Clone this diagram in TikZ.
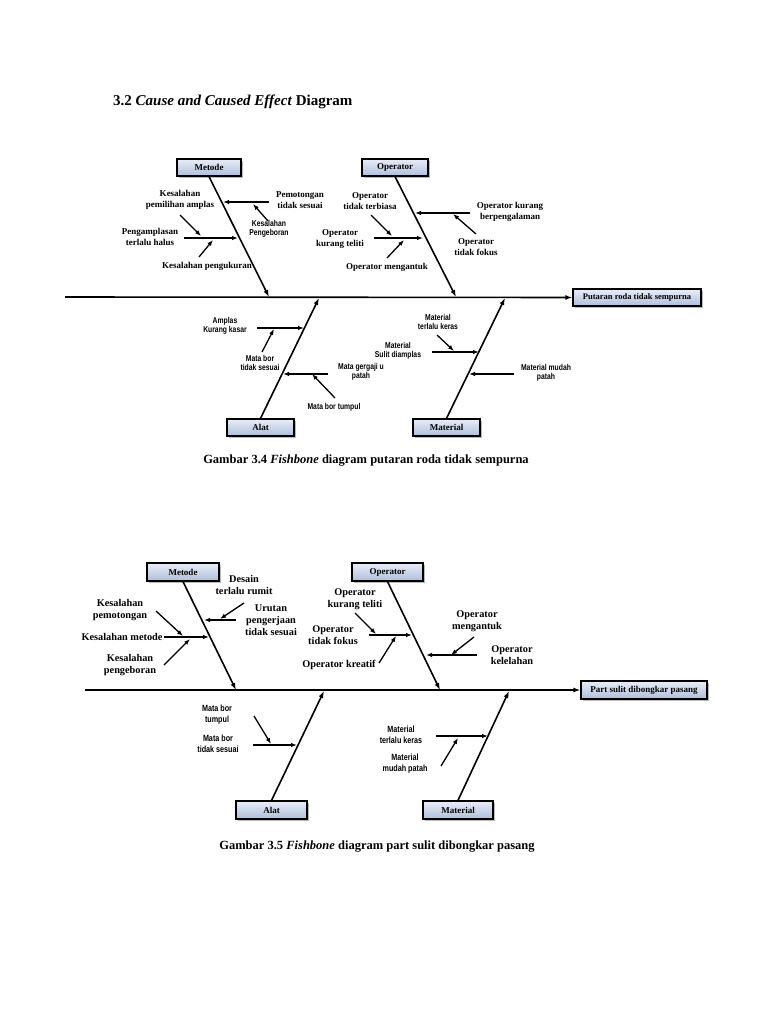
\documentclass[tikz,border=0pt]{standalone}
\usepackage{fontspec}
\setmainfont{Liberation Serif}
\newfontfamily\narrowf{Liberation Sans}[FakeStretch=0.8]
\usetikzlibrary{arrows.meta}
\tikzset{
 bone/.style={line width=1.6pt,-{Latex[length=7pt,width=5pt]}},
 sub/.style={line width=1.3pt,-{Latex[length=6pt,width=4.5pt]}},
 cat/.style={draw=black,line width=1.2pt,top color={rgb,255:red,232;green,237;blue,248},bottom color={rgb,255:red,176;green,190;blue,218},font=\bfseries\fontsize{9}{10}\selectfont,inner sep=0pt},
 lb/.style={font=\bfseries\fontsize{9}{11}\selectfont,align=center,inner sep=0pt},
 ls/.style={font=\narrowf\bfseries\fontsize{8.5}{9.5}\selectfont,align=center,inner sep=0pt},
 lb2/.style={font=\bfseries\fontsize{10.3}{12}\selectfont,align=center,inner sep=0pt},
 ls2/.style={font=\narrowf\bfseries\fontsize{9}{11}\selectfont,align=center,inner sep=0pt},
}
\newcommand\carr[3]{\coordinate (#1s) at (#2);\coordinate (#1e) at (#3);\draw[sub] (#1s) -- (#1e);}
\newcommand\cbone[3]{\coordinate (#1s) at (#2);\coordinate (#1e) at (#3);\draw[bone] (#1s) -- (#1e);}
\newcommand\cbox[6]{\fill[gray!55] (#2+2,#3+2) rectangle (#4+2,#5+2);
 \node[cat,minimum width=#4-#2,minimum height=#5-#3] (#1) at ({(#2+#4)/2},{(#3+#5)/2}) {#6};}
\begin{document}
\begin{tikzpicture}[x=1pt,y=-1pt]
\useasboundingbox[fill=white] (0,0) rectangle (768,1024);
\node[anchor=west,font=\bfseries\fontsize{15}{17}\selectfont,inner sep=0pt] (title) at (113,102) {3.2 \textit{Cause and Caused Effect} Diagram};
% ---------- Diagram 1
\cbox{m1}{177}{159}{241}{176}{Metode}
\cbox{o1}{362}{159}{428}{176}{Operator}
\cbox{a1}{227}{419}{294}{436}{Alat}
\cbox{t1}{413}{419}{480}{436}{Material}
\cbox{e1}{573}{289}{701}{306}{\fontsize{8.5}{10}\selectfont Putaran roda tidak sempurna}
\coordinate (sp1) at (65,297);
\draw[bone] (sp1) -- (e1.west);
\cbone{mb1}{m1.south}{269,297}
\cbone{ob1}{o1.south}{456,297}
\cbone{ab1}{a1.north}{319,298}
\cbone{tb1}{t1.north}{505,298}
\carr{p1}{269,202}{223,202}
\node[lb] (p1l) at (300,200) {Pemotongan\\tidak sesuai};
\carr{p2}{268,221}{253,204}
\node[ls] (p2l) at (269,229) {Kesalahan\\Pengeboran};
\node[lb] (p3l) at (180,200) {Kesalahan\\pemilihan amplas};
\carr{p4}{184,238}{238,238}
\node[lb] (p4l) at (150,237) {Pengamplasan\\terlalu halus};
\carr{p5}{180,215}{201,236}
\carr{p6}{199,257}{213,240}
\node[lb] (p6l) at (207,266) {Kesalahan pengukuran};
\node[lb] (q1l) at (370,201) {Operator\\tidak terbiasa};
\carr{q2}{470,213}{415,213}
\node[lb] (q2l) at (510,212) {Operator kurang\\berpengalaman};
\carr{q3}{476,234}{453,214}
\node[lb] (q3l) at (476,247) {Operator\\tidak fokus};
\carr{q4}{374,238}{423,238}
\carr{q5}{371,215}{392,236}
\node[lb] (q5l) at (340,239) {Operator\\kurang teliti};
\carr{q6}{387,258}{404,240}
\node[lb] (q6l) at (387,267) {Operator mengantuk};
\node[ls] (r1l) at (225,326) {Amplas\\Kurang kasar};
\carr{r2}{257,328}{304,328}
\carr{r3}{262,352}{274,329}
\node[ls] (r3l) at (260,363) {Mata bor\\tidak sesuai};
\carr{r4}{328,374}{283,374}
\node[ls] (r4l) at (361,372) {Mata gergaji u\\patah};
\carr{r5}{335,398}{312,374}
\node[ls] (r5l) at (334,407) {Mata bor tumpul};
\node[ls] (s1l) at (438,322) {Material\\terlalu keras};
\carr{s2}{432,352}{479,352}
\carr{s3}{437,335}{454,351}
\node[ls] (s3l) at (398,351) {Material\\Sulit diamplas};
\carr{s4}{514,374}{469,374}
\node[ls] (s4l) at (546,373) {Material mudah\\patah};
\node[font=\bfseries\fontsize{12.5}{14}\selectfont,inner sep=0pt] (c1) at (366,461) {Gambar 3.4 \textit{Fishbone} diagram putaran roda tidak sempurna};
% ---------- Diagram 2
\cbox{m2}{147}{563}{219}{581}{Metode}
\cbox{o2}{352}{563}{423}{581}{Operator}
\cbox{a2}{236}{801}{307}{819}{Alat}
\cbox{t2}{423}{801}{493}{819}{Material}
\cbox{e2}{581}{681}{707}{699}{Part sulit dibongkar pasang}
\coordinate (sp2) at (85,690);
\draw[bone] (sp2) -- (e2.west);
\cbone{mb2}{m2.south}{236,690}
\cbone{ob2}{o2.south}{440,690}
\cbone{ab2}{a2.north}{324,691}
\cbone{tb2}{t2.north}{509,691}
\node[lb2] (u1l) at (244,585) {Desain\\terlalu rumit};
\carr{u1}{244,603}{220,619}
\carr{u2}{236,620}{204,620}
\node[lb2] (u2l) at (271,620) {Urutan\\pengerjaan\\tidak sesuai};
\node[lb2] (u3l) at (120,610) {Kesalahan\\pemotongan};
\carr{u3}{156,611}{183,636}
\node[lb2] (u4l) at (122,637) {Kesalahan metode};
\carr{u4}{164,637}{209,637}
\carr{u5}{164,665}{190,639}
\node[lb2] (u5l) at (130,665) {Kesalahan\\pengeboran};
\node[lb2] (v1l) at (355,599) {Operator\\kurang teliti};
\carr{v1}{355,613}{376,634}
\carr{v2}{369,635}{412,635}
\node[lb2] (v2l) at (333,635) {Operator\\tidak fokus};
\carr{v3}{379,663}{396,636}
\node[lb2] (v3l) at (339,665) {Operator kreatif};
\node[lb2] (v4l) at (477,621) {Operator\\mengantuk};
\carr{v4}{474,637}{451,655}
\carr{v5}{477,655}{426,655}
\node[lb2] (v5l) at (512,655) {Operator\\kelelahan};
\node[ls2] (w1l) at (217,715) {Mata bor\\tumpul};
\carr{w1}{254,716}{271,744}
\carr{w2}{253,745}{297,745}
\node[ls2] (w2l) at (218,744) {Mata bor\\tidak sesuai};
\carr{x1}{436,736}{488,736}
\node[ls2] (x1l) at (401,735) {Material\\terlalu keras};
\carr{x2}{441,766}{458,738}
\node[ls2] (x2l) at (405,764) {Material\\mudah patah};
\node[font=\bfseries\fontsize{12.5}{14}\selectfont,inner sep=0pt] (c2) at (377,847) {Gambar 3.5 \textit{Fishbone} diagram part sulit dibongkar pasang};
\end{tikzpicture}
\end{document}
